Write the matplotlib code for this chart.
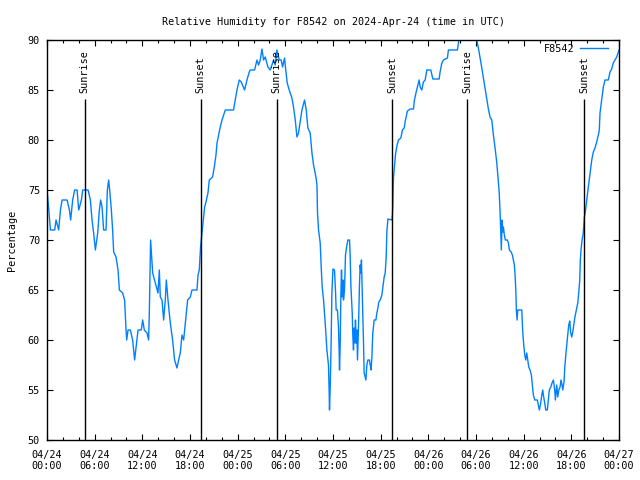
import numpy as np
import matplotlib
matplotlib.use('Agg')
import matplotlib.pyplot as plt
import matplotlib.dates as mdates
import pandas as pd

# hours after 2024-04-24 00:00 UTC, relative humidity (%)
hours = [0.0, 0.21, 0.43, 0.97, 1.14, 1.47, 1.69, 1.9, 2.53, 2.82, 2.98, 3.23, 3.48, 3.79, 3.99,
         4.33, 4.49, 5.17, 5.46, 5.67, 5.87, 6.09, 6.38, 6.59, 6.75, 6.93, 7.13, 7.43, 7.6, 7.76,
         7.89, 8.1, 8.26, 8.39, 8.69, 8.94, 9.11, 9.52, 9.77, 9.95, 10.03, 10.2, 10.49, 10.78, 11.03,
         11.28, 11.46, 11.87, 12.04, 12.25, 12.59, 12.79, 12.88, 13.04, 13.22, 13.3, 13.64, 13.97, 14.14,
         14.26, 14.48, 14.68, 14.89, 15.02, 15.23, 15.52, 15.81, 16.06, 16.36, 16.57, 16.78, 16.99, 17.2,
         17.41, 17.7, 18.04, 18.25, 18.88, 19.01, 19.17, 19.33, 19.51, 19.67, 19.84,
         20.01, 20.26, 20.43, 20.84, 21.06, 21.27, 21.4, 21.6, 21.81, 22.03, 22.44, 23.48, 23.7, 23.91,
         24.2, 24.45, 24.87, 25.17, 25.46, 25.58, 26.13, 26.43, 26.63, 26.84, 27.06, 27.26, 27.47, 27.81,
         28.1, 28.52, 28.73, 28.94, 29.23, 29.48, 29.65, 29.9, 30.08, 30.24, 30.49, 30.83, 31.03, 31.25,
         31.46, 31.66, 31.87, 32.09, 32.42, 32.63, 32.84, 33.13, 33.35, 33.55, 33.85, 33.98, 34.05, 34.18,
         34.39, 34.52, 34.64, 34.81, 34.93, 35.06, 35.23, 35.43, 35.52, 35.56, 35.65, 35.77, 35.86, 35.99,
         36.19, 36.31, 36.4, 36.56, 36.69, 36.78, 36.82, 36.91, 36.99, 37.07, 37.16, 37.25, 37.32, 37.45,
         37.57, 37.75, 37.87, 38.08, 38.16, 38.25, 38.42, 38.5, 38.58, 38.67, 38.76, 38.83, 38.92, 39.01,
         39.08, 39.21, 39.33, 39.42, 39.51, 39.58, 39.67, 39.84, 39.92, 40.05, 40.14, 40.26, 40.39, 40.59,
         40.68, 40.8, 40.89, 41.01, 41.18, 41.4, 41.52, 41.65, 41.77, 41.94, 42.15, 42.28, 42.44, 42.57,
         42.69, 42.78, 42.91, 43.41, 43.48, 43.53, 43.61, 43.74, 43.86, 44.04, 44.24, 44.54, 44.74, 44.96,
         45.12, 45.37, 45.71, 46.13, 46.25, 46.47, 46.68, 46.84, 46.97, 47.18, 47.38, 47.6, 47.81, 48.31,
         48.57, 49.36, 49.48, 49.7, 49.9, 50.4, 50.53, 51.66, 51.79, 51.91, 52.6, 53.25, 54.0, 54.1,
         54.3, 54.52, 54.73, 54.93, 55.14, 55.36, 55.56, 55.77, 55.99, 56.19, 56.4, 56.62, 56.74, 56.91,
         57.03, 57.12, 57.19, 57.28, 57.37, 57.45, 57.57, 57.7, 57.95, 58.08, 58.2, 58.42, 58.58, 58.7,
         58.83, 58.92, 59.01, 59.08, 59.17, 59.26, 59.76, 59.89, 60.01, 60.14, 60.26, 60.39, 60.52, 60.64,
         60.8, 60.97, 61.09, 61.22, 61.4, 61.72, 61.85, 61.97, 62.15, 62.28, 62.4, 62.48, 62.65, 62.78,
         62.98, 63.11, 63.23, 63.41, 63.57, 63.74, 63.91, 63.99, 64.16, 64.29, 64.42, 64.58, 64.7, 64.83,
         64.92, 65.08, 65.17, 65.3, 65.42, 65.55, 65.67, 65.8, 65.92, 66.05, 66.18, 66.3, 66.43, 66.55,
         66.68, 66.81, 66.93, 67.06, 67.13, 67.22, 67.35, 67.47, 67.56, 67.64, 67.76, 67.94, 68.14, 68.36,
         68.57, 68.77, 68.98, 69.19, 69.4, 69.52, 69.61, 69.82, 70.03, 70.24, 70.65, 70.87, 71.08, 71.28,
         71.71, 72.0]
rh = [75, 73.2, 71, 71, 72, 71, 73, 74, 74, 73, 72, 74, 75, 75, 73,
      74, 75, 75, 74, 72, 70.7, 69, 70.7, 73, 74, 73.3, 71, 71, 75, 76,
      75, 73, 71, 68.8, 68.3, 67, 65, 64.7, 64, 61, 60, 61, 61, 60, 58,
      59.7, 61, 61, 62, 61, 60.7, 60, 62.7, 70, 67.7, 66.7, 65.7, 64.7, 67,
      64.3, 64, 62, 64, 66, 64, 61.7, 60, 58, 57.2, 58, 58.7, 60.5, 60,
      61.7, 64, 64.3, 65, 65, 66.5, 67, 69.3, 70.7, 72, 73.3,
      73.8, 74.7, 76, 76.3, 77.3, 78.5, 79.7, 80.5, 81.3, 82, 83, 83, 84, 85,
      86, 85.8, 85, 86, 86.8, 87, 87, 88, 87.5, 88, 89.1, 88, 88.3, 87.3,
      87, 88, 87.5, 89, 88, 88, 87.3, 88.2, 86.8, 85.7, 85, 84.2, 83.3, 82,
      80.3, 80.7, 81.8, 83, 84, 83, 81.2, 80.7, 78.7, 77.5, 76.3, 75.5, 72.7, 71,
      69.7, 67.2, 65.3, 64, 62.7, 61.2, 59, 57.5, 54.7, 53, 55.3, 60, 64.7, 67.1,
      67, 65, 63, 63, 61.3, 58.7, 57, 59.7, 64.5, 67, 64.3, 66, 64, 65,
      68.5, 69.5, 70, 70, 68.5, 65.5, 62.7, 60.3, 59, 61.2, 59.7, 62, 59.7, 61,
      58, 61.3, 65.5, 67.5, 66.7, 68, 65.2, 59.7, 56.7, 56.3, 56, 57.5, 58, 58,
      57.5, 57, 58.2, 60.7, 62, 62, 62.7, 63.2, 63.8, 64, 64.5, 65.3, 66.3, 66.7,
      68.2, 70.8, 72.1, 72, 72.5, 73.5, 76.2, 77.4, 78.5, 79.4, 80, 80.2, 81, 81.2,
      82, 82.9, 83.1, 83.1, 84, 84.8, 85.5, 86, 85.3, 85, 85.8, 86, 87, 87,
      86.1, 86.1, 86.8, 87.7, 88, 88.2, 89, 89, 89.7, 90.5, 91, 91, 90.5, 90,
      89.2, 88.2, 87.2, 86.2, 85.2, 84, 83.1, 82.3, 82, 80.5, 79.2, 77.7, 76.5, 74.9,
      72.8, 70.7, 69, 72, 70.8, 71.3, 70.5, 70, 70, 69.7, 69, 68.8, 68.5, 68,
      67.5, 66.5, 65, 63, 62, 63, 63, 60.7, 59.5, 58.5, 58, 58.7, 58, 57.3,
      57, 56.5, 55.5, 54.5, 54, 54, 53.5, 53, 53.7, 54.5, 55, 54.5, 53.7, 53,
      53, 54, 55, 55.3, 55.7, 56, 55, 54, 55.5, 54.3, 55, 55.3, 56, 55.5,
      55, 55.8, 57.2, 58.5, 59.5, 60.5, 61.5, 61.9, 60.7, 60.3, 60.8, 61.5, 62.2, 62.7,
      63.2, 63.7, 64.7, 66, 68, 69, 70, 70.5, 71.3, 72.3, 72.8, 74, 75.3, 76.7,
      78, 78.8, 79.2, 79.8, 80.5, 81, 82.7, 84, 85.3, 86, 86, 86.8, 87.1, 87.7,
      88.3, 89]

sun_labels = ['Sunrise', 'Sunset', 'Sunrise', 'Sunset', 'Sunrise', 'Sunset']
sun_hours = [4.74, 19.36, 28.9, 43.48, 52.92, 67.6]

start = pd.Timestamp('2024-04-24 00:00')
times = start + pd.to_timedelta(hours, unit='h')
sun_times = start + pd.to_timedelta(sun_hours, unit='h')

plt.rcParams['font.family'] = 'DejaVu Sans Mono'
plt.rcParams['font.size'] = 7.3

fig = plt.figure(figsize=(6.4, 4.8), dpi=100)
ax = fig.add_axes([47/640, 40/480, 572/640, 400/480])

ax.plot(times, rh, color='#0080ff', lw=1, label='F8542')

for lab, t in zip(sun_labels, sun_times):
    ax.vlines(t, 50, 84.1, color='black', lw=1)
    ax.text(t, 84.7, lab, rotation=90, ha='center', va='bottom')

ax.set_xlim(start, start + pd.Timedelta(hours=72))
ax.set_ylim(50, 90)
ax.set_yticks(np.arange(50, 91, 5))
ax.xaxis.set_major_locator(mdates.HourLocator(byhour=[0, 6, 12, 18]))
ax.xaxis.set_minor_locator(mdates.HourLocator(interval=2))
ax.xaxis.set_major_formatter(mdates.DateFormatter('%m/%d\n%H:%M'))
ax.tick_params(which='both', direction='in', top=True, right=True, color='black')
ax.tick_params(which='major', length=4.5, width=0.8)
ax.tick_params(which='minor', length=2.2, width=0.8)
ax.tick_params(axis='x', pad=7)
ax.tick_params(axis='y', pad=5)
for s in ax.spines.values():
    s.set_linewidth(1)

ax.set_title('Relative Humidity for F8542 on 2024-Apr-24 (time in UTC)', fontsize=7.3, pad=11)
ax.set_ylabel('Percentage', labelpad=8)

ax.legend(loc='upper right', bbox_to_anchor=(1.0, 1.018), frameon=False, markerfirst=False,
          handlelength=2.7, borderaxespad=0.7, handletextpad=0.6)

fig.savefig('out.png', dpi=100)
